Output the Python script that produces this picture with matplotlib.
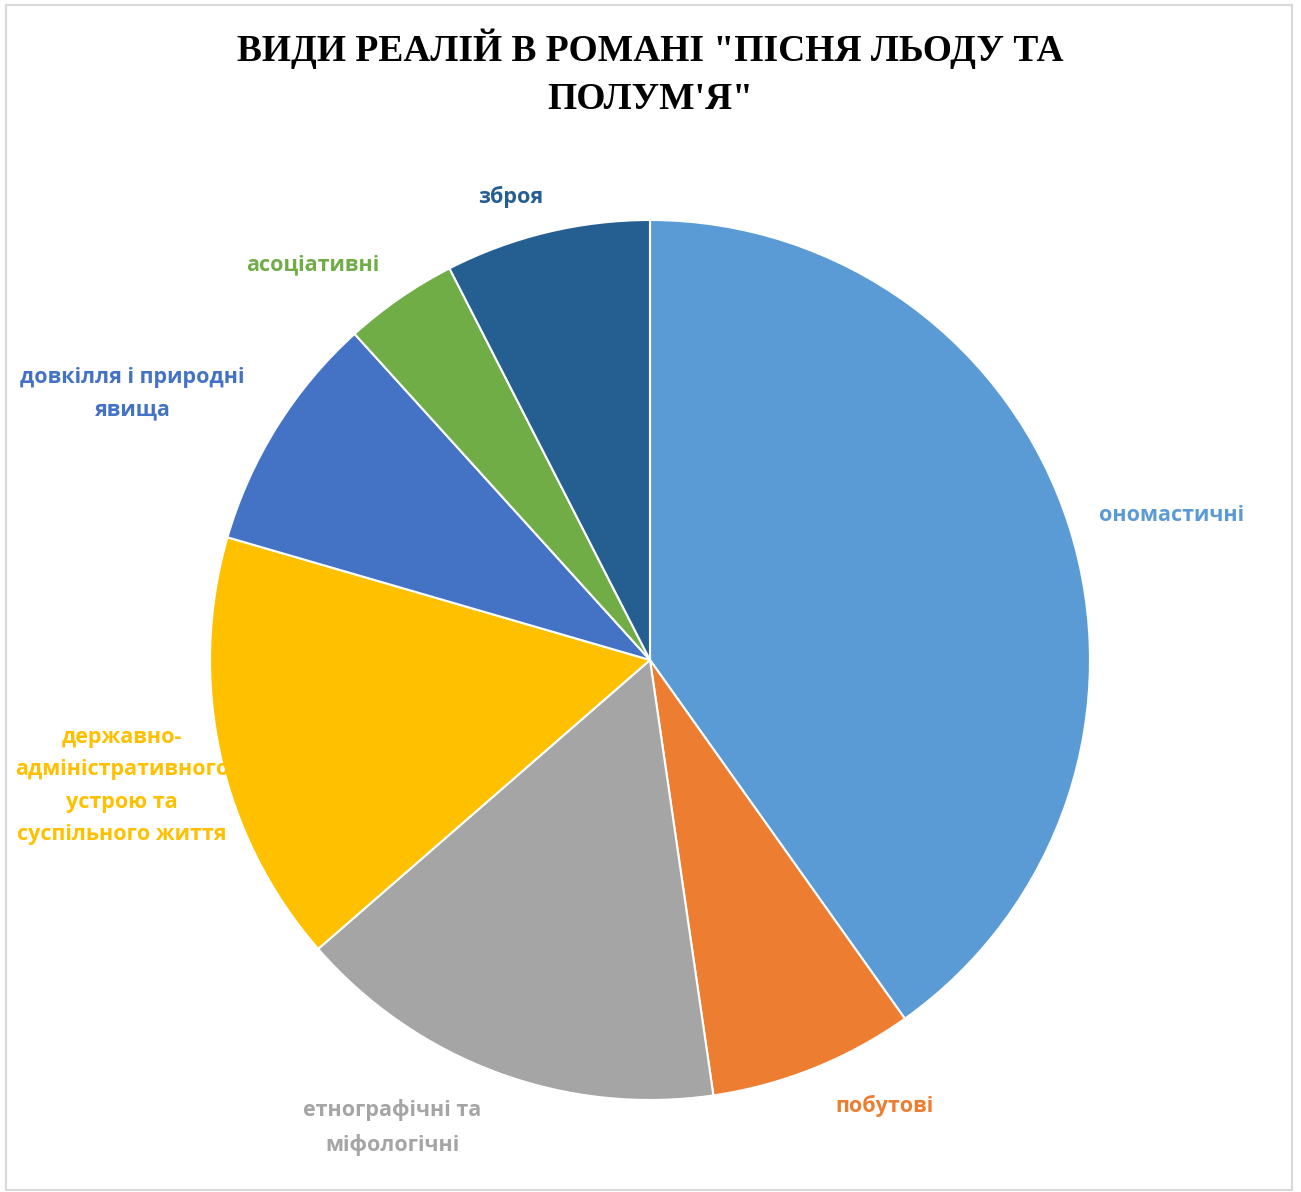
import numpy as np
import matplotlib
matplotlib.use("Agg")
import matplotlib.pyplot as plt
from matplotlib.patches import Rectangle

# дані (кількість реалій за типами)
categories = ["ономастичні", "побутові", "етнографічні та\nміфологічні",
              "державно-\nадміністративного\nустрою та\nсуспільного життя",
              "довкілля і природні\nявища", "асоціативні", "зброя"]
values = [96, 18, 38, 38, 21, 10, 18]
colors = ["#5B9BD5", "#ED7D31", "#A5A5A5", "#FFC000", "#4472C4", "#70AD47", "#255E91"]
# розміщення підписів: відстань від центру (у радіусах) і зсув кута, градуси
label_dist = [1.23, 1.145, 1.213, 1.234, 1.322, 1.18, 1.10]
label_shift = [-2.2, 5.9, -8.5, 1.0, 4.8, 5.8, 3.2]

W, H = 1301, 1192
fig = plt.figure(figsize=(W / 100, H / 100), dpi=100)

# рамка діаграми
fig.patches.append(Rectangle((6 / W, 2 / H), 1286 / W, 1185 / H, transform=fig.transFigure,
                             fill=False, edgecolor="#D9D9D9", linewidth=1.5))

cx, cy, r = 650, 660, 440
ax = fig.add_axes([(cx - r) / W, 1 - (cy + r) / H, 2 * r / W, 2 * r / H])
wedges, _ = ax.pie(values, colors=colors, startangle=90, counterclock=False,
                   wedgeprops=dict(edgecolor="white", linewidth=1.5))
ax.set_xlim(-1, 1)
ax.set_ylim(-1, 1)
ax.set_aspect("auto")
ax.axis("off")

for w, lab, col, d, s in zip(wedges, categories, colors, label_dist, label_shift):
    ang = np.deg2rad((w.theta1 + w.theta2) / 2 + s)
    ax.text(d * np.cos(ang), d * np.sin(ang), lab, ha="center", va="center",
            color=col, fontsize=15.5, fontweight="bold", family="Open Sans",
            linespacing=1.72, clip_on=False)

fig.text(0.5, 1 - 72.5 / H, "ВИДИ РЕАЛІЙ В РОМАНІ \"ПІСНЯ ЛЬОДУ ТА\nПОЛУМ'Я\"",
         ha="center", va="center", fontsize=27, fontweight="bold",
         family="Liberation Serif", linespacing=1.48)

fig.savefig("out.png", dpi=100)
